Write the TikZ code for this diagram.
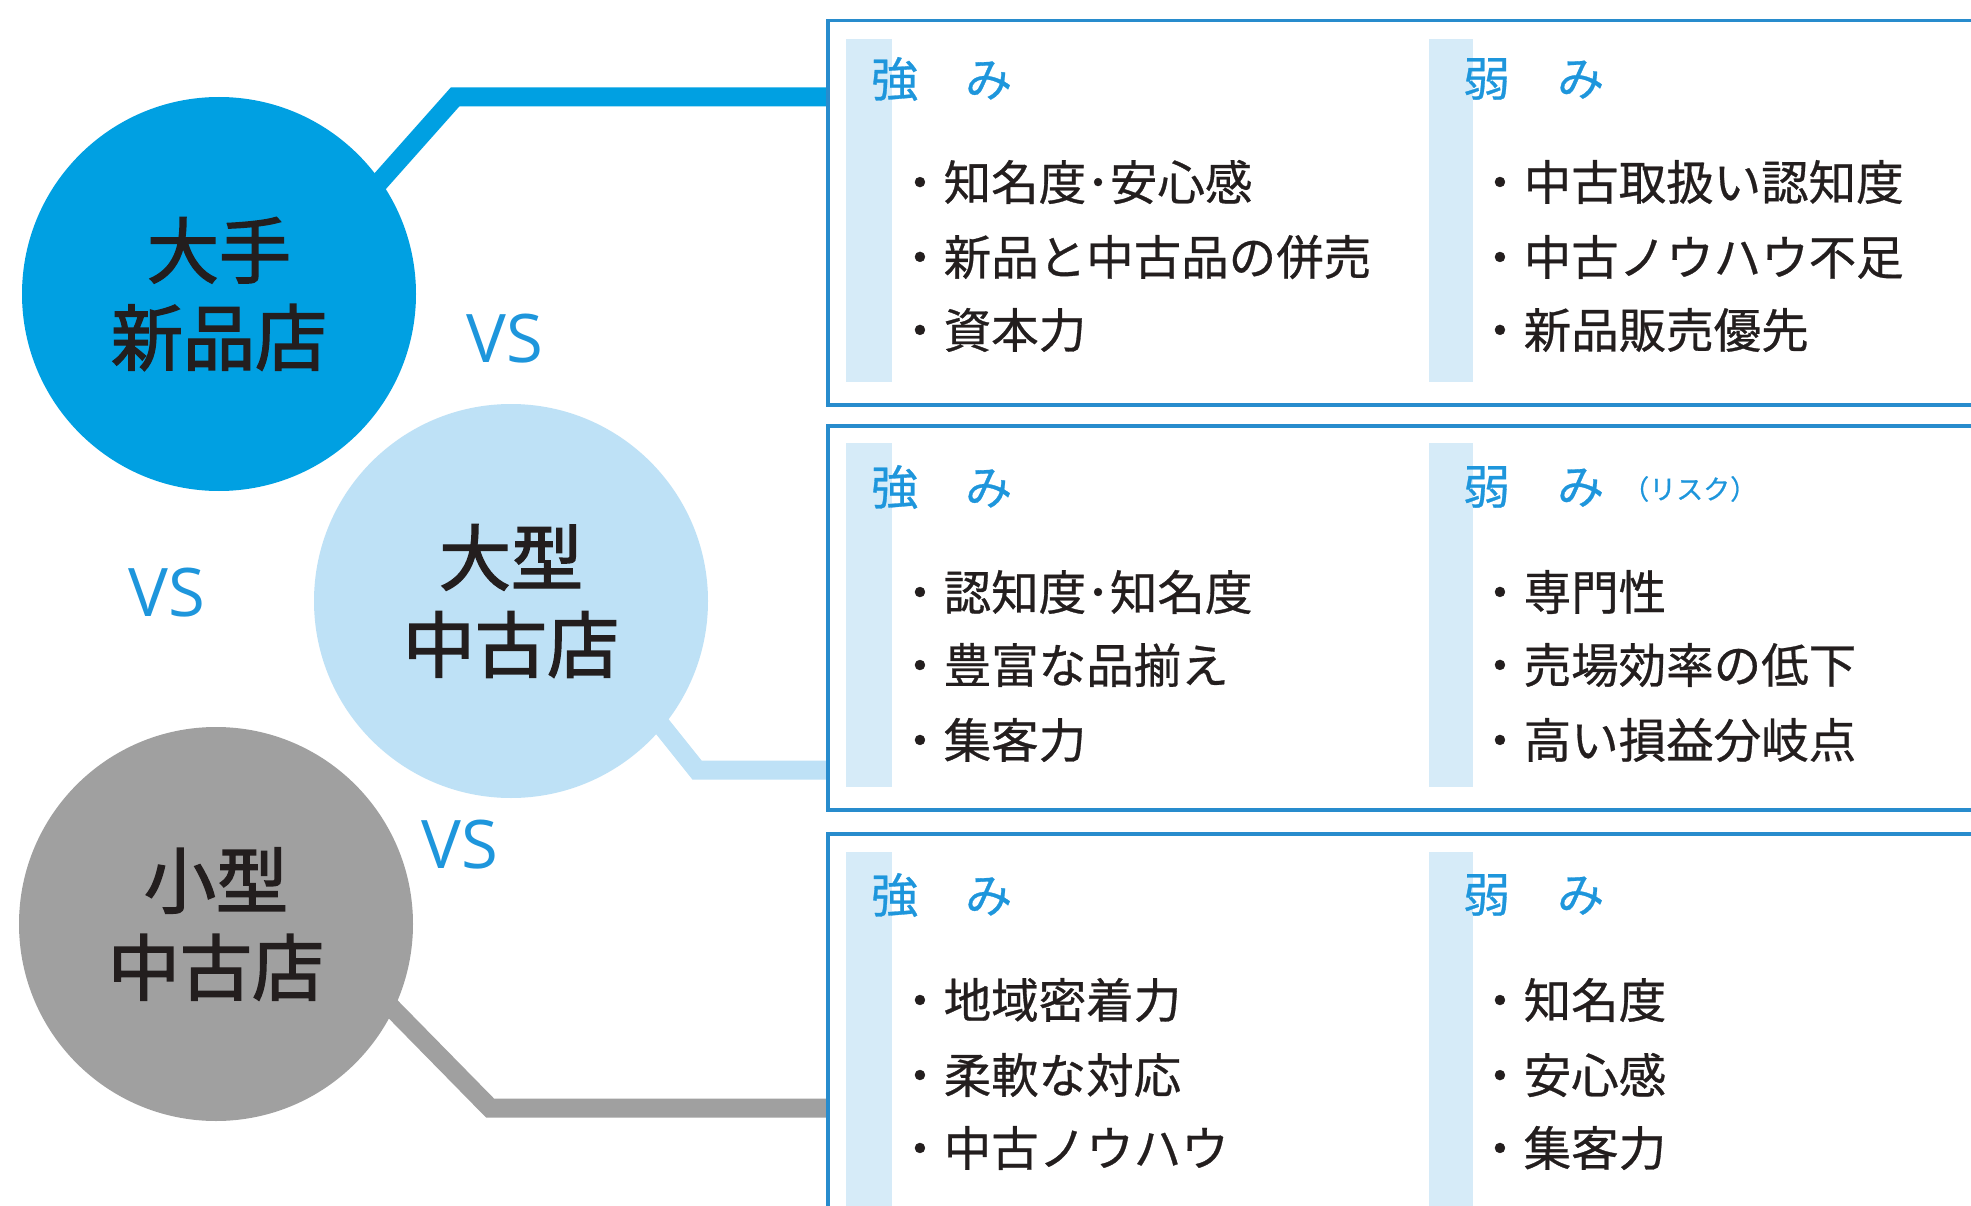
\documentclass[tikz,border=0pt]{standalone}
\usepackage{fontspec}
\newfontfamily\jp{Noto Sans CJK JP}[FakeBold=0.6]
\newfontfamily\jpc{Noto Sans CJK JP}[FakeBold=2]
\newfontfamily\vsfont{Open Sans}
\usetikzlibrary{backgrounds,calc}
\definecolor{cyanM}{RGB}{0,160,226}
\definecolor{lblue}{RGB}{190,225,246}
\definecolor{greyC}{RGB}{160,160,160}
\definecolor{boxblue}{RGB}{40,140,205}
\definecolor{barblue}{RGB}{214,235,248}
\definecolor{headblue}{RGB}{30,150,220}
\definecolor{ink}{RGB}{35,30,30}
\tikzset{
  shop/.style={circle, inner sep=0pt, minimum size=394pt, align=center, text=ink,
    font=\jpc\fontsize{72}{87}\selectfont},
  conn/.style={line width=19pt, line join=miter},
  panel/.style={draw=boxblue, line width=3.5pt, rectangle, inner sep=0pt, anchor=north west, minimum width=1250pt},
  accent/.style={fill=barblue, draw=none, rectangle, inner sep=0pt, anchor=north west},
  head/.style={anchor=west, inner sep=0pt, text=headblue, font=\jp\fontsize{47}{50}\selectfont},
  sub/.style={anchor=west, inner sep=0pt, text=headblue, font=\jp\fontsize{27}{30}\selectfont},
  item/.style={anchor=west, inner sep=0pt, text=ink, font=\jp\fontsize{47.5}{50}\selectfont},
  vs/.style={inner sep=0pt, text=headblue, font=\vsfont\fontsize{67}{70}\selectfont}
}
\begin{document}
\begin{tikzpicture}[x=1pt,y=-1pt]
\useasboundingbox (0,0) rectangle (1971,1206);
\clip (0,0) rectangle (1971,1206);

% panels
\node[panel, minimum height=384pt] (box1) at (826,19) {};
\node[panel, minimum height=384pt] (box2) at (826,424) {};
\node[panel, minimum height=420pt] (box3) at (826,832) {};

% accent bars
\node[accent, minimum width=46pt, minimum height=343pt] (bar1l) at (846,39) {};
\node[accent, minimum width=44pt, minimum height=343pt] (bar1r) at (1429,39) {};
\node[accent, minimum width=46pt, minimum height=344pt] (bar2l) at (846,443) {};
\node[accent, minimum width=44pt, minimum height=344pt] (bar2r) at (1429,443) {};
\node[accent, minimum width=46pt, minimum height=360pt] (bar3l) at (846,852) {};
\node[accent, minimum width=44pt, minimum height=360pt] (bar3r) at (1429,852) {};

% headers
\node[head] (h1s) at (871,79) {強　み};
\node[head] (h1w) at (1463,79) {弱　み};
\node[head] (h2s) at (871,487) {強　み};
\node[head] (h2w) at (1463,487) {弱　み};
\node[sub] (h2r) at (1622,489) {（リスク）};
\node[head] (h3s) at (871,895) {強　み};
\node[head] (h3w) at (1463,895) {弱　み};

% items box 1
\node[item] (a1) at (896,182) {・知名度･安心感};
\node[item] (a2) at (896,257) {・新品と中古品の併売};
\node[item] (a3) at (896,330) {・資本力};
\node[item] (b1) at (1476,182) {・中古取扱い認知度};
\node[item] (b2) at (1476,257) {・中古ノウハウ不足};
\node[item] (b3) at (1476,330) {・新品販売優先};
% items box 2
\node[item] (a4) at (896,592) {・認知度･知名度};
\node[item] (a5) at (896,665) {・豊富な品揃え};
\node[item] (a6) at (896,740) {・集客力};
\node[item] (b4) at (1476,592) {・専門性};
\node[item] (b5) at (1476,665) {・売場効率の低下};
\node[item] (b6) at (1476,740) {・高い損益分岐点};
% items box 3
\node[item] (a7) at (896,1000) {・地域密着力};
\node[item] (a8) at (896,1075) {・柔軟な対応};
\node[item] (a9) at (896,1148) {・中古ノウハウ};
\node[item] (b7) at (1476,1000) {・知名度};
\node[item] (b8) at (1476,1075) {・安心感};
\node[item] (b9) at (1476,1148) {・集客力};

% circles
\node[shop, fill=cyanM] (c1) at (219,294) {大手\\新品店};
\node[shop, fill=lblue] (c2) at (511,601) {大型\\中古店};
\node[shop, fill=greyC] (c3) at (216,924) {小型\\中古店};

% connectors
\coordinate (k1) at (455,97);
\coordinate (k2) at (697,770);
\coordinate (k3) at (490,1108);
\begin{scope}[on background layer]
\fill[white] (0,0) rectangle (1971,1206);
\draw[conn, cyanM] ($(c1.center)+(92,-35)$) -- (k1) -- (k1 -| box1.west);
\draw[conn, lblue] ($(c2.center)+(118,84)$) -- (k2) -- (k2 -| box2.west);
\draw[conn, greyC] ($(c3.center)+(114,21)$) -- (k3) -- (k3 -| box3.west);
\end{scope}

% VS labels
\node[vs] (vs1) at (505,339) {VS};
\node[vs] (vs2) at (167,593) {VS};
\node[vs] (vs3) at (460,845) {VS};
\end{tikzpicture}
\end{document}
